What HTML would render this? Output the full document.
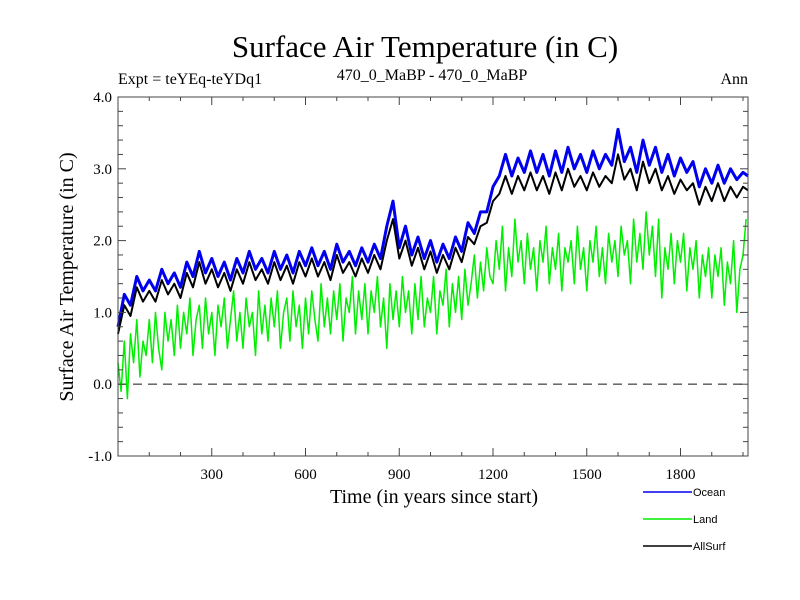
<!DOCTYPE html>
<html><head><meta charset="utf-8"><style>
body{margin:0;background:#fff;width:800px;height:600px;overflow:hidden}
svg{display:block}
.s{font-family:"Liberation Serif",serif}
.a{font-family:"Liberation Sans",sans-serif}
</style></head><body>
<svg id="c" width="800" height="600" xmlns="http://www.w3.org/2000/svg">
<text class="s" x="425" y="57" font-size="31" text-anchor="middle">Surface Air Temperature (in C)</text>
<text class="s" x="118" y="84" font-size="16">Expt = teYEq-teYDq1</text>
<text class="s" x="432" y="80" font-size="16" text-anchor="middle">470_0_MaBP - 470_0_MaBP</text>
<text class="s" x="748" y="84" font-size="16" text-anchor="end">Ann</text>
<text class="s" x="434" y="503" font-size="20" text-anchor="middle">Time (in years since start)</text>
<text class="s" transform="translate(73,277) rotate(-90)" font-size="20" text-anchor="middle">Surface Air Temperature (in C)</text>
<g id="plot"></g>
<g id="axes"></g>
<g id="legend"></g>
</svg>
<script>
const xTicks=[300,600,900,1200,1500,1800];
const yTicks=[-1.0,0.0,1.0,2.0,3.0,4.0];
const ocean=[0.8,1.25,1.1,1.5,1.3,1.45,1.3,1.6,1.4,1.55,1.35,1.7,1.5,1.85,1.55,1.75,1.5,1.7,1.45,1.75,1.55,1.85,1.6,1.75,1.55,1.85,1.6,1.8,1.55,1.85,1.65,1.9,1.65,1.85,1.6,1.95,1.7,1.85,1.65,1.9,1.7,1.95,1.75,2.2,2.55,1.9,2.2,1.8,2.05,1.75,2.0,1.7,1.95,1.75,2.05,1.85,2.25,2.1,2.4,2.4,2.75,2.9,3.2,2.9,3.15,2.95,3.25,2.95,3.2,2.9,3.25,2.95,3.3,3.0,3.2,2.95,3.25,3.0,3.2,3.05,3.55,3.1,3.3,2.95,3.4,3.05,3.3,2.95,3.2,2.9,3.15,2.95,3.1,2.75,3.0,2.8,3.05,2.8,3.0,2.85,2.95,2.9];
const allSurf=[0.7,1.1,0.95,1.35,1.15,1.3,1.15,1.45,1.25,1.4,1.2,1.55,1.35,1.7,1.4,1.6,1.35,1.55,1.3,1.6,1.4,1.7,1.45,1.6,1.4,1.7,1.45,1.65,1.4,1.7,1.5,1.75,1.5,1.7,1.45,1.8,1.55,1.7,1.5,1.75,1.55,1.8,1.6,2.0,2.3,1.75,2.0,1.65,1.9,1.6,1.85,1.55,1.8,1.6,1.9,1.7,2.05,1.95,2.2,2.25,2.55,2.65,2.9,2.65,2.9,2.7,2.95,2.7,2.9,2.65,2.95,2.7,3.0,2.75,2.9,2.7,2.95,2.75,2.9,2.8,3.2,2.85,3.0,2.7,3.1,2.8,3.0,2.7,2.9,2.65,2.85,2.7,2.8,2.5,2.75,2.55,2.8,2.55,2.75,2.6,2.75,2.7];
const land=[0.3,-0.1,0.6,-0.2,0.7,0.3,0.9,0.1,0.6,0.4,
0.9,0.3,1.0,0.5,0.2,1.0,0.6,0.9,0.4,1.1,
0.5,1.0,0.7,1.2,0.4,0.9,1.1,0.5,1.2,0.7,
1.0,0.4,1.1,0.8,1.2,0.5,0.9,1.3,0.6,1.0,
0.5,1.2,0.8,1.0,0.4,1.3,0.7,1.1,0.6,1.2,
0.8,1.3,0.5,1.0,1.2,0.6,1.3,0.8,1.1,0.5,
1.2,0.7,1.3,0.9,0.6,1.4,0.8,1.2,0.7,1.3,
0.9,1.4,0.6,1.2,1.0,1.5,0.7,1.3,0.9,1.4,
0.7,1.3,1.0,1.5,0.8,1.2,0.5,1.4,0.9,1.3,
0.8,1.5,1.0,1.3,0.7,1.4,0.9,1.5,0.8,1.2,
1.0,1.5,0.7,1.3,1.1,1.6,0.8,1.4,1.0,1.5,
0.9,1.6,1.1,1.4,1.8,1.2,1.7,1.3,1.9,1.5,
1.4,2.0,1.6,2.2,1.3,1.9,1.5,2.3,1.7,2.0,
1.4,2.1,1.6,1.9,1.3,2.0,1.7,2.2,1.4,1.9,
1.6,2.1,1.3,1.9,1.7,2.0,1.4,2.2,1.6,1.9,
1.3,2.0,1.7,2.2,1.5,1.9,1.4,2.1,1.7,2.0,
1.5,2.2,1.8,2.0,1.4,2.3,1.7,2.1,1.6,2.4,
1.8,2.2,1.5,2.3,1.2,1.9,1.6,2.1,1.4,2.0,
1.7,2.1,1.3,1.9,1.6,2.0,1.2,1.8,1.5,1.9,
1.2,1.8,1.5,1.9,1.1,1.7,1.4,2.0,1.0,1.6,
1.8,2.3];
const yearStep=20, landYearStep=10, yearMax=2016;
const NS='http://www.w3.org/2000/svg';
const X0=118,X1=748,Y0=97,Y1=456,xMin=0,xMax=2016,yMin=-1,yMax=4;
const sx=v=>X0+(v-xMin)/(xMax-xMin)*(X1-X0);
const sy=v=>Y1-(v-yMin)/(yMax-yMin)*(Y1-Y0);
function mk(t,a,p){const e=document.createElementNS(NS,t);for(const k in a)e.setAttribute(k,a[k]);p.appendChild(e);return e;}
const plot=document.getElementById('plot'),axes=document.getElementById('axes'),leg=document.getElementById('legend');
const zl=mk('line',{x1:X0,x2:X1,y1:sy(0),y2:sy(0),stroke:'#555','stroke-dasharray':'9,6','stroke-width':1.3},plot);


function series(arr,step,col,w,name){
 const p=mk('polyline',{points:arr.map((v,i)=>sx(Math.min(i*step,yearMax)).toFixed(1)+','+sy(v).toFixed(1)).join(' '),fill:'none',stroke:col,'stroke-width':w,'stroke-linejoin':'round'},plot);
 
 
}
series(land,landYearStep,'#00ee00',1.5,'land-series');
series(ocean,yearStep,'#0000ee',3,'ocean-series');
series(allSurf,yearStep,'#000',2,'allsurf-series');
const fr=mk('rect',{x:X0,y:Y0,width:X1-X0,height:Y1-Y0,fill:'none',stroke:'#444','stroke-width':1},axes);


for(let v=100;v<xMax;v+=100){const big=v%300===0;const x=sx(v);
 mk('line',{x1:x,x2:x,y1:Y1,y2:Y1-(big?8:4),stroke:'#444'},axes);
 mk('line',{x1:x,x2:x,y1:Y0,y2:Y0+(big?8:4),stroke:'#444'},axes);}
for(let k=-5;k<=20;k++){const v=k/5;const big=k%5===0;const y=sy(v);
 mk('line',{x1:X0,x2:X0+(big?8:5),y1:y,y2:y,stroke:'#444'},axes);
 mk('line',{x1:X1,x2:X1-(big?8:5),y1:y,y2:y,stroke:'#444'},axes);}
xTicks.forEach(v=>{const t=mk('text',{x:sx(v),y:Y1+23,'font-size':15,'text-anchor':'middle',class:'s'},axes);t.textContent=v;
 
 });
yTicks.forEach(v=>{const t=mk('text',{x:X0-6,y:sy(v)+5,'font-size':15,'text-anchor':'end',class:'s'},axes);t.textContent=v.toFixed(1);
 
 });
[['Ocean','#0000ee',492],['Land','#00ee00',519],['AllSurf','#000',546]].forEach(([n,c,y])=>{
 const g=mk('g',{},leg);
 
 
 mk('line',{x1:643,x2:692,y1:y,y2:y,stroke:c,'stroke-width':1.5},g);
 const t=mk('text',{x:693,y:y+4,'font-size':11,class:'a'},g);t.textContent=n;});
</script>
</body></html>
